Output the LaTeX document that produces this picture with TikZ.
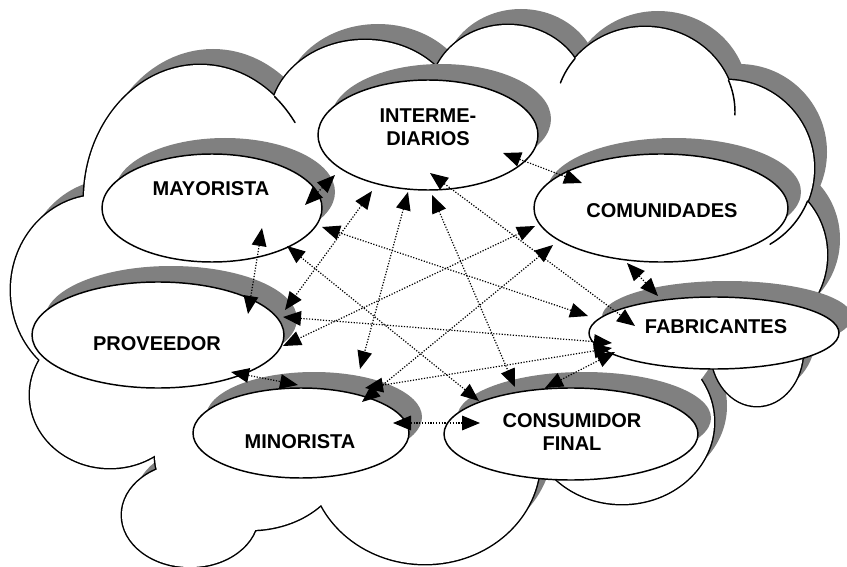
\documentclass[tikz,border=0pt]{standalone}
\usepackage{fontspec}
\setmainfont{Liberation Sans}
\usetikzlibrary{arrows.meta,shapes.geometric}
\definecolor{shadowgray}{RGB}{128,128,128}

\tikzset{
  bubble/.style={ellipse, draw=black, fill=white, line width=1.1pt, inner sep=0pt, outer sep=0pt},
  lbl/.style={font=\bfseries\fontsize{15pt}{17.25pt}\selectfont, align=center, inner sep=0pt},
  conn/.style={<->, >={Triangle[length=13.5pt,width=11pt]}, line width=0.9pt, dash pattern=on 0.9pt off 1.2pt},
  cloudline/.style={line width=1.1pt, line cap=round}
}

\begin{document}
\begin{tikzpicture}[x=0.75pt,y=-0.75pt]
\useasboundingbox (0,0) rectangle (847,567);
\clip (0,0) rectangle (847,567);

% cloud lobes: centre x / centre y / x radius / y radius
\def\lobes{200/200/116/135, 365/120/95/80, 508/95/78/70, 645/112/90/85,
  726/168/88/88, 750/255/77/80, 757/350/46/56, 622/422/92/82,
  425/460/115/104, 250/455/95/75, 190/515/68/52, 110/395/80/73, 100/290/89/95}

% cast shadow of the cloud
\foreach \cx/\cy/\rx/\ry in \lobes
  \fill[shadowgray] ({\cx+13},{\cy-16}) ellipse [x radius=\rx, y radius=\ry];
% outline of every lobe (the inner half is covered below)
\foreach \cx/\cy/\rx/\ry in \lobes
  \draw[line width=2.2pt] (\cx,\cy) ellipse [x radius=\rx, y radius=\ry];
% white body of the cloud
\foreach \cx/\cy/\rx/\ry in \lobes
  \fill[white] (\cx,\cy) ellipse [x radius=\rx, y radius=\ry];
\fill[white] (430,300) ellipse [x radius=300, y radius=185];

% loose inner strokes of the cloud
\draw[cloudline] plot[domain=35:50, samples=12] ({200+116*cos(\x)},{200-135*sin(\x)});
\draw[cloudline] plot[domain=141:160, samples=12] ({645+90*cos(\x)},{112-85*sin(\x)});
\draw[cloudline] plot[domain=-2:22, samples=12] ({645+90*cos(\x)},{112-85*sin(\x)});
\draw[cloudline] plot[domain=-60:-22, samples=14] ({726+88*cos(\x)},{168-88*sin(\x)});

% shadows of the bubbles
\foreach \cx/\cy/\rx/\ry in {428/135/110/55, 212/208/110/54, 661/208/127/54,
  158/335/126/53, 301/433/108/45, 571/434/127/46, 714/333/125/36}
  \fill[shadowgray] ({\cx+13},{\cy-16}) ellipse [x radius=\rx, y radius=\ry];

% bubbles
\node[bubble, minimum width=165pt,   minimum height=82.5pt] (int)  at (428,135) {};
\node[bubble, minimum width=165pt,   minimum height=81pt]   (may)  at (212,208) {};
\node[bubble, minimum width=190.5pt, minimum height=81pt]   (com)  at (661,208) {};
\node[bubble, minimum width=189pt,   minimum height=79.5pt] (prov) at (158,335) {};
\node[bubble, minimum width=162pt,   minimum height=67.5pt] (min)  at (301,433) {};
\node[bubble, minimum width=190.5pt, minimum height=69pt]   (cons) at (571,434) {};
\node[bubble, minimum width=187.5pt, minimum height=54pt]   (fab)  at (714,333) {};

% labels
\node[lbl] (int-t)  at ([shift={(0,-8)}]int.center)   {INTERME-\\DIARIOS};
\node[lbl] (may-t)  at ([shift={(-1,-19)}]may.center) {MAYORISTA};
\node[lbl] (com-t)  at ([shift={(1,3)}]com.center)    {COMUNIDADES};
\node[lbl] (prov-t) at ([shift={(-1,9)}]prov.center)  {PROVEEDOR};
\node[lbl] (min-t)  at ([shift={(-1,9)}]min.center)   {MINORISTA};
\node[lbl] (cons-t) at ([shift={(1,-2)}]cons.center)  {CONSUMIDOR\\FINAL};
\node[lbl] (fab-t)  at ([shift={(2,-6)}]fab.center)   {FABRICANTES};

% relations
\draw[conn] ([shift={(75,18)}]int.center)   -- ([shift={(-79,-25)}]com.center);
\draw[conn] ([shift={(-93,40)}]int.center)  -- ([shift={(93,-3)}]may.center);
\draw[conn] ([shift={(-56,56)}]int.center)  -- ([shift={(127,-25)}]prov.center);
\draw[conn] ([shift={(-20,57)}]int.center)  -- ([shift={(59,-64)}]min.center);
\draw[conn] ([shift={(4,60)}]int.center)    -- ([shift={(-56,-47)}]cons.center);
\draw[conn] ([shift={(2,38)}]int.center)    -- ([shift={(-79,-7)}]fab.center);
\draw[conn] ([shift={(50,20)}]may.center)   -- ([shift={(90,-21)}]prov.center);
\draw[conn] ([shift={(110,19)}]may.center)  -- ([shift={(-126,-17)}]fab.center);
\draw[conn] ([shift={(75,38)}]may.center)   -- ([shift={(-92,-33)}]cons.center);
\draw[conn] ([shift={(-34,55)}]com.center)  -- ([shift={(-56,-37)}]fab.center);
\draw[conn] ([shift={(-126,18)}]com.center) -- ([shift={(125,11)}]prov.center);
\draw[conn] ([shift={(-108,37)}]com.center) -- ([shift={(61,-31)}]min.center);
\draw[conn] ([shift={(125,-18)}]prov.center) -- ([shift={(-102,10)}]fab.center);
\draw[conn] ([shift={(73,37)}]prov.center)  -- ([shift={(-3,-48)}]min.center);
\draw[conn] ([shift={(64,-45)}]min.center)  -- ([shift={(-102,15)}]fab.center);
\draw[conn] ([shift={(92,-10)}]min.center)  -- ([shift={(-91,-11)}]cons.center);
\draw[conn] ([shift={(-26,-46)}]cons.center) -- ([shift={(-99,19)}]fab.center);
\end{tikzpicture}
\end{document}
